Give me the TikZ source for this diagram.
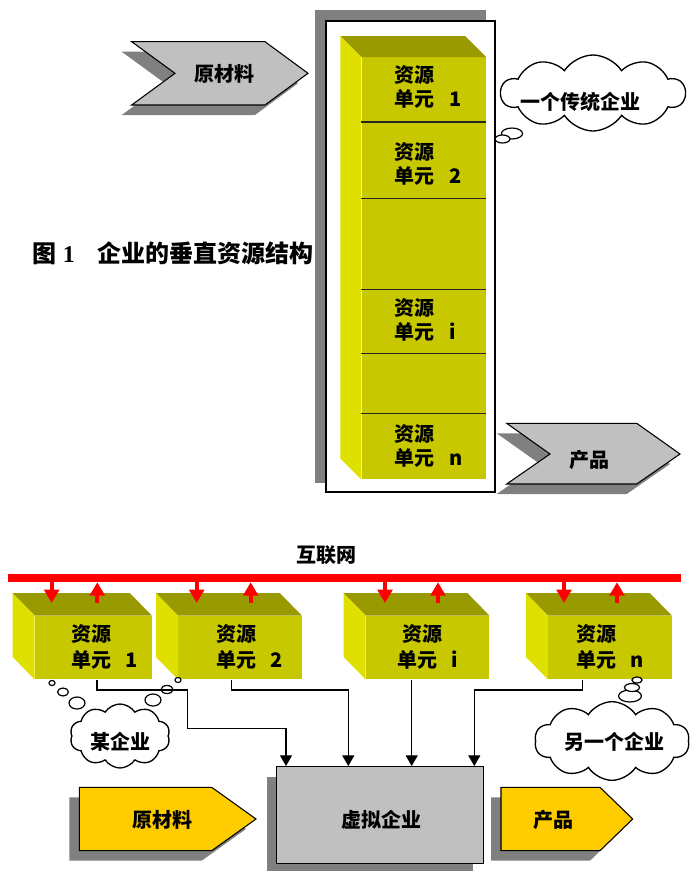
\documentclass[tikz,border=0pt]{standalone}
\usepackage{fontspec}
\setmainfont{Liberation Sans}
\newfontfamily\cjk{Noto Sans CJK SC}
\newfontfamily\capserif{Liberation Serif}
\usetikzlibrary{shapes.symbols,arrows.meta,fit}
\definecolor{yfront}{RGB}{200,200,0}
\definecolor{yleft}{RGB}{224,224,0}
\definecolor{ytop}{RGB}{153,153,0}
\definecolor{sgray}{RGB}{128,128,128}
\definecolor{lgray}{RGB}{192,192,192}
\definecolor{gold}{RGB}{255,204,0}
\tikzset{
 lbl/.style={font=\cjk\bfseries\fontsize{15}{18}\selectfont, inner sep=0pt, align=left},
 lblb/.style={lbl, font=\cjk\bfseries\fontsize{15}{19.5}\selectfont},
 front/.style={fill=yfront, inner sep=0pt, draw=none},
 topf/.style={fill=ytop},
 leftf/.style={fill=yleft},
 shadowfill/.style={fill=sgray},
 chev/.style={fill=lgray, draw=black, line width=0.8pt, line join=miter},
 goldchev/.style={fill=gold, draw=black, line width=0.8pt, line join=miter},
 divider/.style={draw=black!85, line width=0.9pt},
 cloudy/.style={cloud, cloud puffs=10, cloud puff arc=115, draw=black, fill=white, line width=1pt, inner sep=0pt},
 bubble/.style={draw=black, fill=white, line width=0.9pt},
 redarr/.style={draw=red, line width=3pt, -{Triangle[width=11pt,length=10pt]}},
 conn/.style={draw=black, line width=0.8pt, -{Triangle[width=9pt,length=8pt]}},
}
\begin{document}
\begin{tikzpicture}[x=0.75pt,y=-0.75pt]
\useasboundingbox (0,0) rectangle (693,871);
% ---------- Figure 1 ----------
% raw material chevron
\fill[shadowfill] (121.7,51.7) -- (255,51.7) -- (298,83.3) -- (255,115) -- (121.7,115) -- (165,83.3) -- cycle;
\draw[chev] (131.7,41.7) -- (265,41.7) -- (308,73.3) -- (265,105) -- (131.7,105) -- (175,73.3) -- cycle;
\node[lbl] (rm1) at (224,74) {原材料};
% enterprise frame
\fill[shadowfill] (315,10) rectangle (486,483);
\node[fit={(326,21) (495,492)}, inner sep=0pt, draw=black, line width=1.2pt, fill=white] (frame) {};
% resource column
\node[front, fit={(361.7,57.3) (486,479.3)}] (col) {};
\fill[topf] (col.north west) -- ++(-21,-21) -- ([shift={(-21,-21)}]col.north east) -- (col.north east) -- cycle;
\fill[leftf] (col.north west) -- ++(-21,-21) -- ([shift={(-21,-21)}]col.south west) -- (col.south west) -- cycle;
\foreach \yy in {122,198.3,289.3,353.3,413.3}
  \draw[divider] (col.west |- 0,\yy) -- (col.east |- 0,\yy);
\node[lbl, anchor=west] (c1) at (394,87) {资源\\单元\hspace{0.75em}1};
\node[lbl, anchor=west] (c2) at (394,164) {资源\\单元\hspace{0.75em}2};
\node[lbl, anchor=west] (ci) at (394,320) {资源\\单元\hspace{0.75em}i};
\node[lbl, anchor=west] (cn) at (394,446) {资源\\单元\hspace{0.75em}n};
% thought cloud
\node[cloudy, minimum width=138pt, minimum height=57pt] (cl1) at (593,93) {};
\draw[bubble] (512,133.5) ellipse [x radius=7.9pt, y radius=4.1pt];
\draw[bubble] (502.5,139) ellipse [x radius=5.6pt, y radius=3pt];
\node[lbl] (cl1t) at (580,102) {一个传统企业};
% caption
\node[anchor=west, inner sep=0pt, font=\cjk\bfseries\fontsize{18}{20}\selectfont] (cap) at (32,253) {图\hspace{5pt}{\capserif\bfseries 1}\hspace{17pt}企业的垂直资源结构};
% product chevron
\fill[shadowfill] (496.7,433.3) -- (626.7,433.3) -- (670,464) -- (626.7,494) -- (496.7,494) -- (540,464) -- cycle;
\draw[chev] (506.7,423.3) -- (636.7,423.3) -- (680,454) -- (636.7,484) -- (506.7,484) -- (550,454) -- cycle;
\node[lbl] (pr1) at (589,460) {产品};
% ---------- Figure 2 ----------
\node[lbl] (inet) at (326,555) {互联网};
\node[fit={(8,574) (681,582)}, fill=red, inner sep=0pt] (net) {};
% boxes
\node[front, fit={(35,616) (151.7,679.3)}] (b1) {};
\node[front, fit={(178.3,616) (301.7,679.3)}] (b2) {};
\node[front, fit={(366,616) (489.3,679.3)}] (bi) {};
\node[front, fit={(548.3,616) (671.7,679.3)}] (bn) {};
\foreach \b in {b1,b2,bi,bn}{
  \fill[topf] (\b.north west) -- ++(-22,-22.5) -- ([shift={(-22,-22.5)}]\b.north east) -- (\b.north east) -- cycle;
  \fill[leftf] (\b.north west) -- ++(-22,-22.5) -- ([shift={(-22,-22.5)}]\b.south west) -- (\b.south west) -- cycle;
}
\node[lblb, anchor=west] (t1) at (71,647) {资源\\单元\hspace{0.7em}1};
\node[lblb, anchor=west] (t2) at (216,647) {资源\\单元\hspace{0.7em}2};
\node[lblb, anchor=west] (ti) at (397,647) {\hspace{4pt}资源\\单元\hspace{0.7em}i};
\node[lblb, anchor=west] (tn) at (576.5,647) {资源\\单元\hspace{0.7em}n};
% red arrows
\foreach \dx/\ux in {51.7/97.3, 196.7/250.7, 385/438, 564/617}{
  \draw[redarr] (net.south -| \dx,0) -- (\dx,603);
  \draw[redarr] (\ux,603) -- (net.south -| \ux,0);
}
% clouds
\node[cloudy, minimum width=75pt, minimum height=48pt] (cl2) at (120,736) {};
\draw[bubble] (52,683) ellipse [x radius=2.3pt, y radius=1.9pt];
\draw[bubble] (63,692) ellipse [x radius=4.1pt, y radius=3pt];
\draw[bubble] (77,703) ellipse [x radius=6pt, y radius=4.5pt];
\draw[bubble] (178,680) ellipse [x radius=2.3pt, y radius=1.9pt];
\draw[bubble] (167,689.5) ellipse [x radius=4.5pt, y radius=3pt];
\draw[bubble] (153,700) ellipse [x radius=6pt, y radius=4.5pt];
\node[lbl] (cl2t) at (120,742) {某企业};
\node[cloudy, minimum width=116pt, minimum height=59pt] (cl3) at (612,741) {};
\draw[bubble] (630,696) ellipse [x radius=8.6pt, y radius=4.5pt];
\draw[bubble] (632,687.5) ellipse [x radius=5.6pt, y radius=3pt];
\draw[bubble] (637,680) ellipse [x radius=3.8pt, y radius=2.3pt];
\node[lbl] (cl3t) at (614,742) {另一个企业};
% virtual enterprise
\fill[shadowfill] (266.7,776.7) rectangle (473.3,873.3);
\node[fit={(276.7,766.7) (483.3,863.3)}, inner sep=0pt, draw=black, line width=1pt, fill=lgray] (ve) {};
\node[lbl] (vet) at (381,820) {虚拟企业};
% connectors
\draw[conn] (b1.south -| 97,0) -- (97,690) -- (187.7,690) -- (187.7,728.3) -- (286,728.3) -- (ve.north -| 286,0);
\draw[conn] (b2.south -| 231.7,0) |- (348.3,690) -- (ve.north -| 348.3,0);
\draw[conn] (bi.south -| 411.7,0) -- (ve.north -| 411.7,0);
\draw[conn] (bn.south -| 582.3,0) |- (474.3,690) -- (ve.north -| 474.3,0);
% gold chevrons
\fill[shadowfill] (69.3,797.3) -- (201.7,797.3) -- (246,829) -- (201.7,860.7) -- (69.3,860.7) -- cycle;
\draw[goldchev] (79.3,787.3) -- (211.7,787.3) -- (256,819) -- (211.7,850.7) -- (79.3,850.7) -- cycle;
\node[lbl] (rm2) at (162,820) {原材料};
\fill[shadowfill] (491,797.3) -- (590,797.3) -- (622.7,829) -- (590,860.7) -- (491,860.7) -- cycle;
\draw[goldchev] (501,787.3) -- (600,787.3) -- (632.7,819) -- (600,850.7) -- (501,850.7) -- cycle;
\node[lbl] (pr2) at (553,820) {产品};
\end{tikzpicture}
\end{document}
